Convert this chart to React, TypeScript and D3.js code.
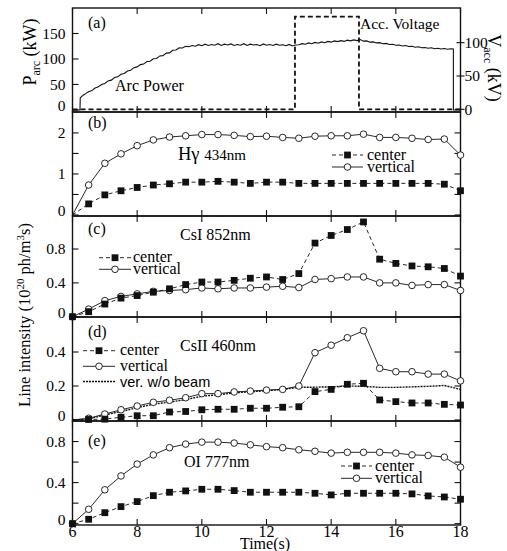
import * as d3 from "d3";
import React from "react";

// sample times (s) for the spectroscopy panels
const times = [6, 6.5, 7, 7.5, 8, 8.5, 9, 9.5, 10, 10.5, 11, 11.5, 12, 12.5, 13, 13.5, 14, 14.5, 15, 15.5, 16, 16.5, 17, 17.5, 18];
const xTicks = [6, 8, 10, 12, 14, 16, 18];

// (a) arc power (kW), dense trace sampled every 0.1 s from 6.5 s
const arcStart = 6.5;
const arcStep = 0.1;
const arcPower = [
  35.5, 38, 43, 45.5, 50, 52, 57, 58.5, 63.5, 65,
  70, 71.5, 76.5, 78, 83, 84.5, 89, 90, 95, 95.5,
  100.5, 101, 106, 106.5, 111.5, 112, 117, 117.5, 122, 121.5,
  125, 124, 126.5, 125, 128, 126, 129, 126.5, 128.5, 127,
  130, 126.5, 129, 127.5, 129.5, 126.5, 128.5, 127, 130, 126.5,
  129, 127.5, 128.5, 126, 129.5, 127, 128.5, 126.5, 129, 127,
  128, 126, 128.5, 125.5, 127.5, 128, 130, 129, 131.5, 130,
  132.5, 131, 133.5, 132, 134.5, 133, 135.5, 134, 136, 134.5,
  137, 135.5, 137.5, 136, 138, 135, 135.5, 133, 133.5, 131.5,
  132, 130, 130.5, 128.5, 129, 127, 127.5, 125.5, 126.5, 124.5,
  125, 123, 124, 122, 122.5, 121, 122, 120, 121, 119.5,
  120.5, 119, 120,
];
const arcHead = [[6, 0], [6.23, 0], [6.24, 24], [6.33, 29], [6.43, 33]];
const arcTail = [[17.78, 119.5], [17.78, 0], [18, 0]];

// (a) acceleration voltage (kV)
const accTime = [6, 12.88, 12.88, 14.86, 14.86, 18];
const accVoltage = [0, 0, 139, 139, 0, 0];

// (b) H gamma 434nm
const hgCenter = [0, 0.27, 0.49, 0.59, 0.67, 0.73, 0.76, 0.8, 0.8, 0.82, 0.8, 0.77, 0.8, 0.8, 0.77, 0.77, 0.77, 0.77, 0.77, 0.77, 0.77, 0.77, 0.77, 0.75, 0.59];
const hgVertical = [0, 0.73, 1.26, 1.49, 1.69, 1.83, 1.9, 1.93, 1.96, 1.96, 1.94, 1.91, 1.92, 1.89, 1.87, 1.92, 1.93, 1.93, 1.97, 1.89, 1.89, 1.87, 1.84, 1.85, 1.46];

// (c) CsI 852nm
const csiCenter = [0, 0.06, 0.15, 0.22, 0.25, 0.29, 0.33, 0.38, 0.41, 0.41, 0.43, 0.455, 0.47, 0.44, 0.51, 0.87, 0.96, 1.03, 1.12, 0.68, 0.63, 0.6, 0.59, 0.57, 0.48];
const csiVertical = [0, 0.09, 0.19, 0.24, 0.27, 0.3, 0.31, 0.32, 0.34, 0.33, 0.34, 0.34, 0.35, 0.36, 0.345, 0.44, 0.45, 0.47, 0.47, 0.4, 0.4, 0.37, 0.38, 0.38, 0.31];

// (d) CsII 460nm
const cs2Center = [0, 0.003, 0.005, 0.016, 0.025, 0.025, 0.047, 0.05, 0.06, 0.063, 0.063, 0.069, 0.069, 0.075, 0.078, 0.167, 0.18, 0.21, 0.216, 0.118, 0.108, 0.1, 0.1, 0.092, 0.088];
const cs2Vertical = [0, 0.01, 0.035, 0.06, 0.082, 0.104, 0.116, 0.131, 0.155, 0.155, 0.165, 0.17, 0.176, 0.18, 0.2, 0.396, 0.44, 0.484, 0.525, 0.304, 0.284, 0.284, 0.27, 0.27, 0.23];
const cs2NoBeam = [0, 0.005, 0.03, 0.05, 0.072, 0.093, 0.105, 0.12, 0.14, 0.148, 0.16, 0.166, 0.172, 0.18, 0.192, 0.193, 0.195, 0.2, 0.198, 0.192, 0.192, 0.195, 0.198, 0.203, 0.18];

// (e) OI 777nm
const oiCenter = [0, 0.043, 0.107, 0.166, 0.215, 0.273, 0.306, 0.319, 0.335, 0.335, 0.322, 0.306, 0.306, 0.306, 0.306, 0.296, 0.28, 0.296, 0.296, 0.296, 0.296, 0.29, 0.27, 0.26, 0.238];
const oiVertical = [0, 0.14, 0.33, 0.465, 0.58, 0.67, 0.74, 0.775, 0.794, 0.794, 0.785, 0.768, 0.75, 0.74, 0.72, 0.705, 0.687, 0.695, 0.695, 0.695, 0.687, 0.67, 0.664, 0.648, 0.55];

const serif = "'Liberation Serif', 'Times New Roman', serif";
const sans = "'Liberation Sans', Arial, sans-serif";

function App() {
  const ref = React.useRef(null);

  React.useEffect(() => {
    const svg = d3.select(ref.current);
    svg.selectAll("*").remove();

    const x = d3.scaleLinear().domain([6, 18]).range([72.5, 460.5]);
    const [x0, x1] = x.range();

    const panels = [
      { tag: "(a)", top: 8, bottom: 112, domain: [-4, 200], ticks: [0, 50, 100, 150], labels: [0, 50, 100, 150], tagY: 28 },
      { tag: "(b)", top: 112, bottom: 216, domain: [-0.025, 2.51], ticks: [0, 0.5, 1, 1.5, 2], labels: [0, 1, 2], tagY: 127.5,
        title: { x: 178, y: 160 }, center: hgCenter, vertical: hgVertical, markFrom: 1,
        legend: { x0: 332, x1: 363, tx: 367, rows: [155, 167] } },
      { tag: "(c)", top: 216, bottom: 317, domain: [-0.003, 1.19], ticks: [0, 0.4, 0.8], labels: [0, 0.4, 0.8], tagY: 234,
        title: { x: 180, y: 239.5, text: "CsI 852nm" }, center: csiCenter, vertical: csiVertical, markFrom: 0,
        legend: { x0: 99, x1: 131, tx: 133, rows: [257.7, 269.3] } },
      { tag: "(d)", top: 317, bottom: 421, domain: [-0.006, 0.606], ticks: [0, 0.2, 0.4], labels: [0, 0.2, 0.4], tagY: 337,
        title: { x: 180, y: 351, text: "CsII 460nm" }, center: cs2Center, vertical: cs2Vertical, noBeam: cs2NoBeam, markFrom: 1,
        legend: { x0: 83, x1: 115, tx: 120, rows: [350.7, 366.3, 381.5] } },
      { tag: "(e)", top: 421, bottom: 525, domain: [-0.013, 1.0], ticks: [0, 0.2, 0.4, 0.6, 0.8], labels: [0, 0.4, 0.8], tagY: 446,
        title: { x: 184, y: 467, text: "OI 777nm" }, center: oiCenter, vertical: oiVertical, markFrom: 0,
        legend: { x0: 341, x1: 372, tx: 375, rows: [466, 478.3] } },
    ];

    panels.forEach((p, k) => {
      const y = d3.scaleLinear().domain(p.domain).range([p.bottom, p.top]);
      const g = svg.append("g");

      // frame
      g.append("rect")
        .attr("x", x0).attr("y", p.top)
        .attr("width", x1 - x0).attr("height", p.bottom - p.top)
        .attr("fill", "none").attr("stroke", "#111").attr("stroke-width", 1.4);

      // inward ticks
      const tk = g.append("g").attr("stroke", "#111").attr("stroke-width", 1.1);
      xTicks.forEach(t => {
        tk.append("line").attr("x1", x(t)).attr("x2", x(t)).attr("y1", p.top).attr("y2", p.top + 6);
        tk.append("line").attr("x1", x(t)).attr("x2", x(t)).attr("y1", p.bottom).attr("y2", p.bottom - 6);
      });
      p.ticks.forEach(v => {
        tk.append("line").attr("x1", x0).attr("x2", x0 + 6).attr("y1", y(v)).attr("y2", y(v));
        if (k > 0) tk.append("line").attr("x1", x1 - 6).attr("x2", x1).attr("y1", y(v)).attr("y2", y(v));
      });

      g.selectAll("text.ytick")
        .data(p.labels)
        .join("text")
        .attr("class", "ytick")
        .attr("x", 65.5)
        .attr("y", v => y(v) - (v === 0 ? 4 : 0))
        .attr("dy", "0.35em")
        .attr("text-anchor", "end")
        .attr("font-family", serif)
        .attr("font-size", 15.5)
        .text(v => String(v));

      g.append("text")
        .attr("x", 88).attr("y", p.tagY)
        .attr("font-family", serif).attr("font-size", 16)
        .text(p.tag);

      if (!p.center) return;

      const pts = (vals) => vals.map((v, i) => [times[i], v]);
      const line = d3.line().x(d => x(d[0])).y(d => y(d[1]));

      if (p.noBeam) {
        g.append("path").attr("d", line(pts(p.noBeam)))
          .attr("fill", "none").attr("stroke", "#111").attr("stroke-width", 1.4)
          .attr("stroke-dasharray", "2,1");
      }
      g.append("path").attr("d", line(pts(p.vertical)))
        .attr("fill", "none").attr("stroke", "#111").attr("stroke-width", 0.9);
      g.append("path").attr("d", line(pts(p.center)))
        .attr("fill", "none").attr("stroke", "#111").attr("stroke-width", 0.9)
        .attr("stroke-dasharray", "4,3");

      g.selectAll("circle.vert")
        .data(pts(p.vertical).slice(p.markFrom))
        .join("circle")
        .attr("class", "vert")
        .attr("cx", d => x(d[0])).attr("cy", d => y(d[1])).attr("r", 3.3)
        .attr("fill", "#fff").attr("stroke", "#111").attr("stroke-width", 0.9);
      g.selectAll("rect.cen")
        .data(pts(p.center).slice(p.markFrom))
        .join("rect")
        .attr("class", "cen")
        .attr("x", d => x(d[0]) - 3.4).attr("y", d => y(d[1]) - 3.4)
        .attr("width", 6.8).attr("height", 6.8)
        .attr("fill", "#111");

      // title
      const tt = g.append("text").attr("x", p.title.x).attr("y", p.title.y)
        .attr("font-family", serif).attr("font-size", 16);
      if (p.title.text) {
        tt.text(p.title.text);
      } else {
        tt.append("tspan").attr("font-size", 18.5).text("Hγ ");
        tt.append("tspan").attr("font-size", 15).text("434nm");
      }

      // legend
      const L = p.legend;
      const mid = (L.x0 + L.x1) / 2;
      const lg = g.append("g");
      lg.append("line").attr("x1", L.x0).attr("x2", L.x1).attr("y1", L.rows[0]).attr("y2", L.rows[0])
        .attr("stroke", "#111").attr("stroke-width", 0.9).attr("stroke-dasharray", "4,3");
      lg.append("rect").attr("x", mid - 3.4).attr("y", L.rows[0] - 3.4).attr("width", 6.8).attr("height", 6.8).attr("fill", "#111");
      lg.append("line").attr("x1", L.x0).attr("x2", L.x1).attr("y1", L.rows[1]).attr("y2", L.rows[1])
        .attr("stroke", "#111").attr("stroke-width", 0.9);
      lg.append("circle").attr("cx", mid).attr("cy", L.rows[1]).attr("r", 3.3)
        .attr("fill", "#fff").attr("stroke", "#111").attr("stroke-width", 0.9);
      const names = ["center", "vertical"];
      names.forEach((n, i) => {
        lg.append("text").attr("x", L.tx).attr("y", L.rows[i] + 4.5)
          .attr("font-family", serif).attr("font-size", 16).text(n);
      });
      if (p.noBeam) {
        lg.append("line").attr("x1", L.x0).attr("x2", L.x1).attr("y1", L.rows[2]).attr("y2", L.rows[2])
          .attr("stroke", "#111").attr("stroke-width", 1.4).attr("stroke-dasharray", "2,1");
        lg.append("text").attr("x", L.tx).attr("y", L.rows[2] + 5)
          .attr("font-family", sans).attr("font-size", 14.5).text("ver. w/o beam");
      }
    });

    // panel (a) traces
    const pa = panels[0];
    const yP = d3.scaleLinear().domain(pa.domain).range([pa.bottom, pa.top]);
    const yV = d3.scaleLinear().domain([-4, 152]).range([pa.bottom, pa.top]);
    const arcPts = arcHead
      .concat(arcPower.map((v, i) => [arcStart + i * arcStep, v]))
      .concat(arcTail);
    svg.append("path")
      .attr("d", d3.line().x(d => x(d[0])).y(d => yP(d[1]))(arcPts))
      .attr("fill", "none").attr("stroke", "#111").attr("stroke-width", 1.1);
    svg.append("path")
      .attr("d", d3.line().x((d, i) => x(accTime[i])).y(d => yV(d))(accVoltage))
      .attr("fill", "none").attr("stroke", "#111").attr("stroke-width", 1.8)
      .attr("stroke-dasharray", "5,3");

    // right axis of (a)
    [0, 50, 100].forEach(v => {
      svg.append("line").attr("x1", x1 - 4).attr("x2", x1 + 4).attr("y1", yV(v)).attr("y2", yV(v))
        .attr("stroke", "#111").attr("stroke-width", 1.1);
      svg.append("text").attr("x", x1 + 4).attr("y", yV(v)).attr("dy", "0.35em")
        .attr("font-family", serif).attr("font-size", 15.5).text(String(v));
    });

    svg.append("text").attr("x", 115).attr("y", 91)
      .attr("font-family", serif).attr("font-size", 16).text("Arc Power");
    svg.append("text").attr("x", 360).attr("y", 29)
      .attr("font-family", serif).attr("font-size", 15.5).text("Acc. Voltage");

    // axis titles
    const pl = svg.append("text").attr("transform", "translate(36,52) rotate(-90)")
      .attr("text-anchor", "middle").attr("font-family", serif).attr("font-size", 18);
    pl.append("tspan").text("P");
    pl.append("tspan").attr("font-size", 12).attr("dy", 4).text("arc");
    pl.append("tspan").attr("dy", -4).text(" (kW)");

    const vl = svg.append("text").attr("transform", "translate(488,68) rotate(90)")
      .attr("text-anchor", "middle").attr("font-family", serif).attr("font-size", 18);
    vl.append("tspan").text("V");
    vl.append("tspan").attr("font-size", 12).attr("dy", 4).text("acc");
    vl.append("tspan").attr("dy", -4).text(" (kV)");

    const il = svg.append("text").attr("transform", "translate(30,315) rotate(-90)")
      .attr("text-anchor", "middle").attr("font-family", serif).attr("font-size", 16.5);
    il.append("tspan").text("Line intensity (10");
    il.append("tspan").attr("font-size", 11).attr("dy", -6).text("20");
    il.append("tspan").attr("dy", 6).text(" ph/m");
    il.append("tspan").attr("font-size", 11).attr("dy", -6).text("3");
    il.append("tspan").attr("dy", 6).text("s)");

    svg.selectAll("text.xtick")
      .data(xTicks)
      .join("text")
      .attr("class", "xtick")
      .attr("x", t => x(t)).attr("y", 536.5)
      .attr("text-anchor", "middle")
      .attr("font-family", serif).attr("font-size", 16)
      .text(t => String(t));
    svg.append("text").attr("x", 265).attr("y", 548.5).attr("text-anchor", "middle")
      .attr("font-family", serif).attr("font-size", 16).text("Time(s)");
  }, []);

  return (
    <svg ref={ref} width={507} height={551}
      style={{ position: "absolute", left: 0, top: 0, background: "#fff" }} />
  );
}

export default App;
